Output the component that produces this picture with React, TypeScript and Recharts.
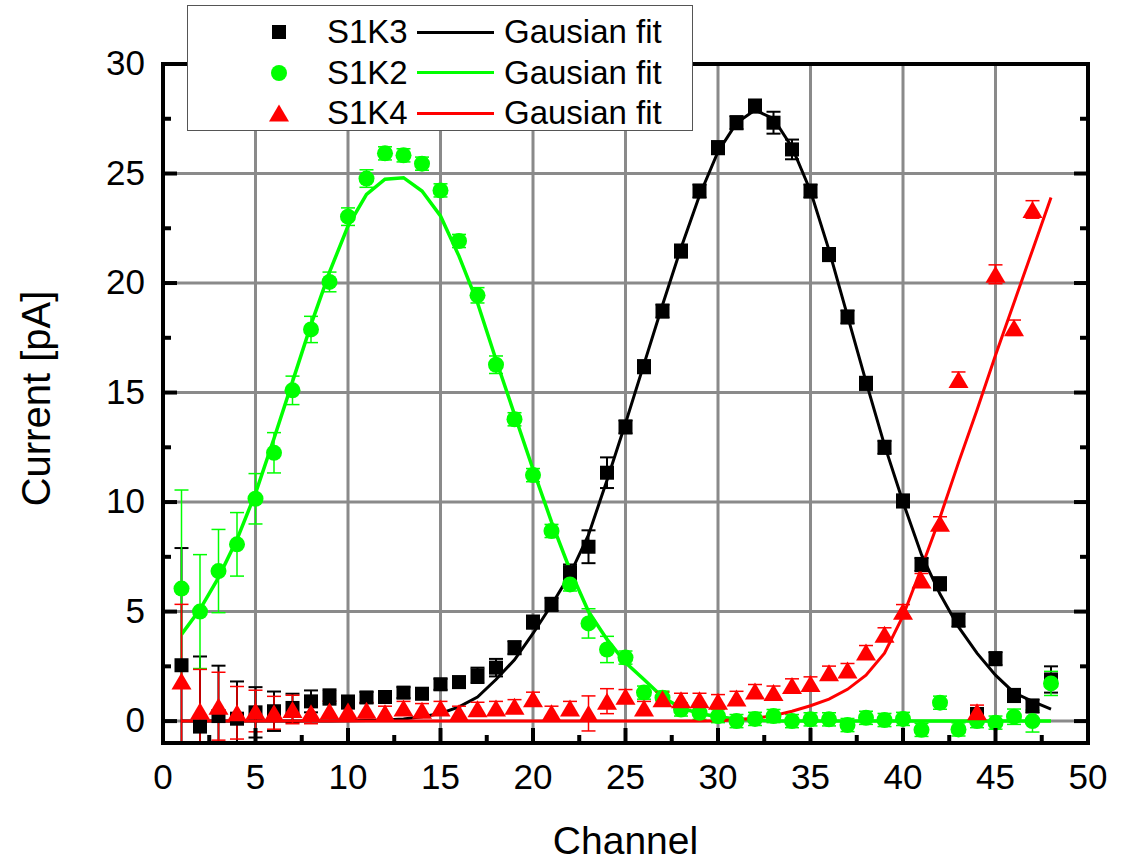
import React from 'react';
import { ComposedChart, Scatter, Line, XAxis, YAxis, CartesianGrid, ErrorBar } from 'recharts';

const FONT = "'Liberation Sans', Arial, Helvetica, sans-serif";
const GREEN = '#00ff00';
const RED = '#ff0000';
const BLACK = '#000000';

const channels = [
  1, 2, 3, 4, 5, 6, 7, 8, 9, 10, 11, 12, 13, 14, 15, 16, 17, 18, 19, 20, 21, 22, 23, 24,
  25, 26, 27, 28, 29, 30, 31, 32, 33, 34, 35, 36, 37, 38, 39, 40, 41, 42, 43, 44, 45, 46, 47, 48,
];

// S1K3 (black squares)
const s1k3 = [
  2.55, -0.25, 0.23, 0.11, 0.4, 0.45, 0.6, 0.9, 1.1, 0.87, 1.08, 1.1, 1.3, 1.25, 1.68, 1.78,
  2.09, 2.44, 3.35, 4.52, 5.33, 6.8, 7.96, 11.34, 13.43, 16.18, 18.72, 21.46, 24.2, 26.18, 27.32, 28.08,
  27.32, 26.1, 24.2, 21.3, 18.45, 15.42, 12.5, 10.05, 7.15, 6.27, 4.61, 0.3, 2.85, 1.17, 0.69, 1.9,
];
const s1k3Err = [
  5.35, 3.2, 2.3, 1.7, 1.15, 0.9, 0.65, 0.5, 0.35, 0.3, 0.25, 0.25, 0.25, 0.25, 0.25, 0.25,
  0.35, 0.4, 0.3, 0.3, 0.3, 0.35, 0.75, 0.7, 0.3, 0.3, 0.3, 0.3, 0.3, 0.3, 0.3, 0.3,
  0.5, 0.45, 0.3, 0.3, 0.3, 0.3, 0.3, 0.3, 0.3, 0.3, 0.3, 0.3, 0.3, 0.3, 0.3, 0.6,
];
const s1k3Fit = [
  0, 0, 0, 0, 0, 0, 0, 0, 0, 0.02, 0.03, 0.05, 0.1, 0.2, 0.35, 0.65,
  1.1, 1.9, 2.8, 4.0, 5.3, 6.7, 8.5, 11.0, 13.6, 16.3, 19.0, 21.6, 24.0, 26.0, 27.3, 27.9,
  27.5, 26.2, 24.2, 21.5, 18.5, 15.5, 12.6, 10.0, 7.6, 5.8, 4.3, 3.1, 2.1, 1.3, 0.9, 0.55,
];

// S1K2 (green circles)
const s1k2 = [
  6.05, 5.0, 6.85, 8.07, 10.15, 12.25, 15.1, 17.88, 20.05, 23.03, 24.77, 25.92, 25.83, 25.45, 24.23, 21.92,
  19.44, 16.27, 13.78, 11.23, 8.68, 6.24, 4.46, 3.27, 2.9, 1.3, 1.07, 0.53, 0.38, 0.23, 0.0, 0.1,
  0.23, 0.0, 0.08, 0.08, -0.18, 0.15, 0.05, 0.1, -0.4, 0.84, -0.38, 0.0, -0.07, 0.2, 0.0, 1.72,
];
const s1k2Err = [
  4.5, 2.6, 1.9, 1.45, 1.15, 0.92, 0.65, 0.6, 0.45, 0.4, 0.4, 0.3, 0.3, 0.3, 0.3, 0.3,
  0.35, 0.4, 0.3, 0.3, 0.3, 0.3, 0.67, 0.6, 0.3, 0.3, 0.3, 0.3, 0.3, 0.3, 0.3, 0.3,
  0.3, 0.3, 0.3, 0.3, 0.3, 0.3, 0.3, 0.3, 0.3, 0.3, 0.3, 0.3, 0.3, 0.35, 0.5, 0.55,
];
const s1k2Fit = [
  3.96, 5.1, 6.55, 8.3, 10.4, 12.9, 15.5, 18.1, 20.5, 22.6, 24.05, 24.74, 24.81, 24.2, 23.06, 21.23,
  19.1, 16.5, 14.0, 11.5, 9.1, 6.9, 5.0, 3.73, 2.67, 1.9, 1.1, 0.6, 0.35, 0.2, 0.1, 0.05,
  0, 0, 0, 0, 0, 0, 0, 0, 0, 0, 0, 0, 0, 0, 0, 0,
];

// S1K4 (red triangles), no point at channel 48
const s1k4 = [
  1.83, 0.46, 0.68, 0.38, 0.46, 0.38, 0.53, 0.38, 0.46, 0.46, 0.5, 0.38, 0.6, 0.5, 0.6, 0.38,
  0.56, 0.6, 0.68, 1.02, 0.38, 0.6, 0.35, 0.91, 1.14, 0.6, 1.02, 0.97, 0.97, 0.91, 1.06, 1.37,
  1.3, 1.63, 1.72, 2.21, 2.33, 3.15, 3.96, 5.02, 6.44, 9.03, 15.6, 0.43, 20.4, 17.96, 23.36,
];
const s1k4Err = [
  3.5, 1.9, 1.55, 1.2, 0.95, 0.75, 0.65, 0.5, 0.45, 0.4, 0.35, 0.3, 0.3, 0.3, 0.3, 0.3,
  0.3, 0.3, 0.3, 0.3, 0.3, 0.3, 0.8, 0.57, 0.3, 0.3, 0.3, 0.3, 0.3, 0.3, 0.3, 0.3,
  0.3, 0.3, 0.3, 0.3, 0.3, 0.3, 0.3, 0.3, 0.3, 0.3, 0.34, 0.3, 0.43, 0.35, 0.4,
];
const s1k4Fit = [
  0, 0, 0, 0, 0, 0, 0, 0, 0, 0, 0, 0, 0, 0, 0, 0,
  0, 0, 0, 0, 0, 0, 0, 0, 0, 0, 0, 0, 0, 0.02, 0.06, 0.13,
  0.25, 0.45, 0.7, 1.0, 1.45, 2.1, 3.1, 4.8, 7.0, 9.3, 11.8, 14.2, 16.7, 19.1, 21.5, 23.9,
];

const xTicks = [0, 2.5, 5, 7.5, 10, 12.5, 15, 17.5, 20, 22.5, 25, 27.5, 30, 32.5, 35, 37.5, 40, 42.5, 45, 47.5, 50];
const yTicks = [0, 2.5, 5, 7.5, 10, 12.5, 15, 17.5, 20, 22.5, 25, 27.5, 30];
const xGrid = [5, 10, 15, 20, 25, 30, 35, 40, 45];
const yGrid = [0, 5, 10, 15, 20, 25];

const points = (vals: number[], errs: number[]) => vals.map((y, i) => ({ x: channels[i], y, e: errs[i] }));
const curve = (vals: number[]) => vals.map((y, i) => ({ x: channels[i], y }));

const isMajor = (v: number) => Math.abs(v % 5) < 1e-9;

const drawSquare = (cx: number, cy: number, color: string) => (
  <rect x={cx - 7} y={cy - 7} width={14} height={14} fill={color} />
);
const drawCircle = (cx: number, cy: number, color: string) => <circle cx={cx} cy={cy} r={8} fill={color} />;
const drawTriangle = (cx: number, cy: number, color: string) => (
  <polygon points={`${cx},${cy - 8.5} ${cx + 10},${cy + 8.5} ${cx - 10},${cy + 8.5}`} fill={color} />
);

const LeftTick = ({ x, y, payload }: any) => {
  const major = isMajor(payload.value);
  return (
    <g>
      <line x1={x} y1={y} x2={x + (major ? 14 : 8)} y2={y} stroke="#000" strokeWidth={4} />
      {major && (
        <text x={x - 18} y={y + 11} textAnchor="end" fontSize={35} fontFamily={FONT} fill="#000">
          {payload.value}
        </text>
      )}
    </g>
  );
};

const RightTick = ({ x, y, payload }: any) => (
  <line x1={x} y1={y} x2={x - (isMajor(payload.value) ? 14 : 8)} y2={y} stroke="#000" strokeWidth={4} />
);

const BottomTick = ({ x, y, payload }: any) => {
  const major = isMajor(payload.value);
  return (
    <g>
      <line x1={x} y1={y} x2={x} y2={y - (major ? 15 : 8)} stroke="#000" strokeWidth={4} />
      {major && (
        <text x={x} y={y + 46} textAnchor="middle" fontSize={35} fontFamily={FONT} fill="#000">
          {payload.value}
        </text>
      )}
    </g>
  );
};

const TopTick = ({ x, y, payload }: any) => (
  <line x1={x} y1={y} x2={x} y2={y + (isMajor(payload.value) ? 15 : 8)} stroke="#000" strokeWidth={4} />
);

const YTitle = ({ viewBox }: any) => {
  const vb = viewBox || { x: 0, y: 64, width: 163, height: 679 };
  const cx = vb.x + 50;
  const cy = vb.y + vb.height / 2 - 5;
  return (
    <text x={cx} y={cy} transform={`rotate(-90 ${cx} ${cy})`} textAnchor="middle" fontSize={40} fontFamily={FONT} fill="#000">
      Current [pA]
    </text>
  );
};

const legendRows = [
  { name: 'S1K3', color: BLACK, marker: drawSquare },
  { name: 'S1K2', color: GREEN, marker: drawCircle },
  { name: 'S1K4', color: RED, marker: drawTriangle },
];

const LegendBox = () => (
  <div
    style={{
      position: 'absolute',
      left: 187,
      top: 5,
      width: 504,
      height: 124,
      border: '1px solid #555',
      background: '#fff',
      fontFamily: FONT,
      fontSize: 33,
      color: '#000',
    }}
  >
    {legendRows.map((r, i) => (
      <div key={r.name} style={{ position: 'absolute', left: 0, top: 6 + i * 40.5, width: '100%', height: 40 }}>
        <svg width={30} height={30} style={{ position: 'absolute', left: 76, top: 5 }}>
          {r.marker(15, 15, r.color)}
        </svg>
        <span style={{ position: 'absolute', left: 139, top: 0, lineHeight: '40px' }}>{r.name}</span>
        <div style={{ position: 'absolute', left: 229, top: 18.5, width: 77, height: 3, background: r.color }} />
        <span style={{ position: 'absolute', left: 316, top: 0, lineHeight: '40px' }}>Gausian fit</span>
      </div>
    ))}
  </div>
);

const axisLine = { stroke: '#000', strokeWidth: 4, strokeLinecap: 'square' as const };

// error bars are cut at the frame, like the data
const clipCss = `g[class*="errorBar"] line { clip-path: url(#plot-clip); }`;

export default function App() {
  return (
    <div style={{ position: 'absolute', left: 0, top: 0, width: 1127, height: 863, background: '#fff' }}>
      <style>{clipCss}</style>
      <svg width={0} height={0} style={{ position: 'absolute' }}>
        <defs>
          <clipPath id="plot-clip" clipPathUnits="userSpaceOnUse">
            <rect x={163} y={64} width={925} height={679} />
          </clipPath>
        </defs>
      </svg>
      <ComposedChart width={1127} height={863} margin={{ top: 0, right: 0, bottom: 0, left: 0 }}>
        <CartesianGrid
          xAxisId="b"
          yAxisId="l"
          stroke="#8a8a8a"
          strokeWidth={3}
          verticalValues={xGrid}
          horizontalValues={yGrid}
        />
        <XAxis
          xAxisId="b"
          type="number"
          dataKey="x"
          domain={[0, 50]}
          ticks={xTicks}
          interval={0}
          height={120}
          tickSize={0}
          tickMargin={0}
          tickLine={false}
          axisLine={axisLine}
          tick={<BottomTick />}
          label={{ value: 'Channel', position: 'insideBottom', offset: 9, fontSize: 39, fill: '#000', fontFamily: FONT }}
        />
        <XAxis
          xAxisId="t"
          orientation="top"
          type="number"
          dataKey="x"
          domain={[0, 50]}
          ticks={xTicks}
          interval={0}
          height={64}
          tickSize={0}
          tickMargin={0}
          tickLine={false}
          axisLine={axisLine}
          tick={<TopTick />}
        />
        <YAxis
          yAxisId="l"
          type="number"
          domain={[-1, 30]}
          allowDataOverflow
          ticks={yTicks}
          interval={0}
          width={163}
          tickSize={0}
          tickMargin={0}
          tickLine={false}
          axisLine={axisLine}
          tick={<LeftTick />}
          label={<YTitle />}
        />
        <YAxis
          yAxisId="r"
          orientation="right"
          type="number"
          domain={[-1, 30]}
          allowDataOverflow
          ticks={yTicks}
          interval={0}
          width={39}
          tickSize={0}
          tickMargin={0}
          tickLine={false}
          axisLine={axisLine}
          tick={<RightTick />}
        />

        <Scatter
          xAxisId="b"
          yAxisId="l"
          data={points(s1k3, s1k3Err)}
          dataKey="y"
          isAnimationActive={false}
          shape={(p: any) => drawSquare(p.cx, p.cy, BLACK)}
        >
          <ErrorBar dataKey="e" direction="y" width={7} stroke={BLACK} strokeWidth={2} isAnimationActive={false} />
        </Scatter>
        <Line
          xAxisId="b"
          yAxisId="l"
          data={curve(s1k3Fit)}
          dataKey="y"
          type="linear"
          stroke={BLACK}
          strokeWidth={3}
          dot={false}
          isAnimationActive={false}
        />

        <Scatter
          xAxisId="b"
          yAxisId="l"
          data={points(s1k2, s1k2Err)}
          dataKey="y"
          isAnimationActive={false}
          shape={(p: any) => drawCircle(p.cx, p.cy, GREEN)}
        >
          <ErrorBar dataKey="e" direction="y" width={7} stroke={GREEN} strokeWidth={1.5} isAnimationActive={false} />
        </Scatter>
        <Line
          xAxisId="b"
          yAxisId="l"
          data={curve(s1k2Fit)}
          dataKey="y"
          type="linear"
          stroke={GREEN}
          strokeWidth={3.5}
          dot={false}
          isAnimationActive={false}
        />

        <Scatter
          xAxisId="b"
          yAxisId="l"
          data={points(s1k4, s1k4Err)}
          dataKey="y"
          isAnimationActive={false}
          shape={(p: any) => drawTriangle(p.cx, p.cy, RED)}
        >
          <ErrorBar dataKey="e" direction="y" width={7} stroke={RED} strokeWidth={1.5} isAnimationActive={false} />
        </Scatter>
        <Line
          xAxisId="b"
          yAxisId="l"
          data={curve(s1k4Fit)}
          dataKey="y"
          type="linear"
          stroke={RED}
          strokeWidth={3}
          dot={false}
          isAnimationActive={false}
        />
      </ComposedChart>
      <LegendBox />
    </div>
  );
}
